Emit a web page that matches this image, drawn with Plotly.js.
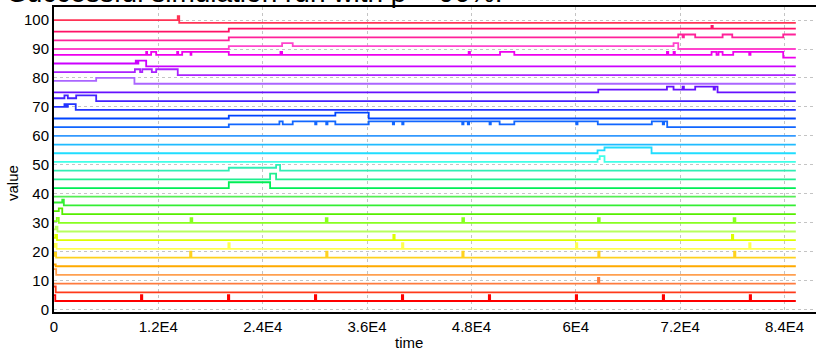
<!DOCTYPE html>
<html>
<head>
<meta charset="utf-8">
<script src="https://cdn.plot.ly/plotly-3.0.1.min.js"></script>
<style>html,body{margin:0;padding:0;background:#fff;}#chart{width:816px;height:350px;}</style>
</head>
<body>
<div id="chart"></div>
<script>
// ---- data: each series is a list of [time, value] change points (step-after) ----
const T_END = 85300;
const s03 = [[0,5],[150,3],[10000,5],[10150,3],[20000,5],[20150,3],[30000,5],[30150,3],[40000,5],[40150,3],[50000,5],[50150,3],[60000,5],[60150,3],[70000,5],[70150,3],[80000,5],[80150,3],[T_END,3]];
const s06 = [[0,8],[200,6],[T_END,6]];
const s09 = [[0,9],[62550,11],[62700,9],[T_END,9]];
const s12 = [[0,14],[250,12],[T_END,12]];
const s15 = [[0,15.6],[200,15],[T_END,15]];
const s18 = [[0,18.6],[100,19.6],[250,18],[15650,20],[15800,18],[31300,20],[31450,18],[46950,20],[47100,18],[62580,20],[62730,18],[78200,20],[78350,18],[T_END,18]];
const s21 = [[0,21.7],[100,22.7],[300,21],[20050,23],[20200,21],[40020,23],[40170,21],[60020,23],[60170,21],[79940,23],[80090,21],[T_END,21]];
const s24 = [[0,24.8],[150,25.8],[350,24],[39020,25.8],[39170,24],[77950,25.8],[78100,24],[T_END,24]];
const s27 = [[0,27.7],[200,28.7],[400,27],[T_END,27]];
const s30 = [[0,30.6],[320,31.7],[550,30],[15700,31.6],[15900,30],[31250,31.6],[31450,30],[46950,31.6],[47150,30],[62550,31.6],[62750,30],[78150,31.6],[78350,30],[T_END,30]];
const s33 = [[0,34],[550,35],[950,33],[T_END,33]];
const s36 = [[0,37],[950,38],[1130,36],[T_END,36]];
const s39 = [[0,39],[T_END,39]];
const s42 = [[0,42],[20100,44],[24850,42],[T_END,42]];
const s45 = [[0,45],[24850,47],[25540,45],[T_END,45]];
const s48 = [[0,48],[20100,49],[25540,50],[26000,48],[T_END,48]];
const s51 = [[0,51],[62500,52],[62750,53],[63300,51],[T_END,51]];
const s54 = [[0,54],[62500,55],[63300,56],[68710,54],[T_END,54]];
const s57 = [[0,57],[T_END,57]];
const s60 = [[0,60],[T_END,60]];
const s63 = [[0,63],[20100,64],[25920,65],[26300,64],[27450,65],[30030,64],[30180,65],[31300,64],[31450,65],[32350,64],[36190,65],[38960,64],[39110,65],[40040,64],[40190,65],[46940,64],[47090,65],[47580,64],[47730,65],[50080,64],[50230,65],[51240,64],[52930,65],[60050,64],[60200,65],[62530,64],[68740,65],[70000,64],[70150,65],[70510,63],[T_END,63]];
const s66 = [[0,66],[20100,67],[32350,68],[36190,66],[T_END,66]];
const s69 = [[0,70],[1200,71],[1400,70],[1590,71],[2500,69],[T_END,69]];
const s72 = [[0,73],[1200,74],[1590,73],[2550,74],[4850,72],[T_END,72]];
const s75 = [[0,75],[62580,76],[70480,77],[71240,76],[72280,77],[72430,76],[73730,77],[75850,76],[76000,77],[76300,75],[T_END,75]];
const s78 = [[0,79],[4850,80],[9250,78],[T_END,78]];
const s81 = [[0,82],[9300,83],[9900,82],[10150,83],[11250,82],[11750,83],[14230,81],[T_END,81]];
const s84 = [[0,85],[9400,86],[9550,85],[9700,86],[10600,84],[T_END,84]];
const s88 = [[0,88],[10600,89],[10710,88],[11170,89],[11750,88],[14160,89],[14280,88],[14740,89],[15700,88],[15800,89],[20100,88],[26040,89],[26230,88],[47680,89],[47830,88],[51290,89],[52930,88],[70480,89],[70630,88],[71240,89],[71390,88],[75610,89],[76180,88],[76410,89],[76880,88],[78100,89],[79940,88],[80090,89],[83850,87],[T_END,87]];
const s91 = [[0,90],[20100,91],[26230,92],[27450,91],[71240,92],[71780,90],[T_END,90]];
const s94 = [[0,93],[20100,94],[71780,95],[72280,94],[72430,95],[73730,94],[76880,95],[77990,94],[83850,95],[T_END,95]];
const s97 = [[0,96],[20100,97],[75600,98],[75750,97],[T_END,97]];
const s99 = [[0,100],[14230,101.3],[14400,99],[T_END,99]];

const xTickVals = [0, 12000, 24000, 36000, 48000, 60000, 72000, 84000];
const xTickText = ['0', '1.2E4', '2.4E4', '3.6E4', '4.8E4', '6E4', '7.2E4', '8.4E4'];
const yTickVals = [0, 10, 20, 30, 40, 50, 60, 70, 80, 90, 100];

// ---- styles ----
const seriesList = [s03,s06,s09,s12,s15,s18,s21,s24,s27,s30,s33,s36,s39,s42,s45,s48,s51,s54,s57,s60,s63,s66,s69,s72,s75,s78,s81,s84,s88,s91,s94,s97,s99];
const colors = ['#ff0000','#ff3a1a','#ff7a3c','#ffa050','#ffaa00','#ffd21e','#ffff50','#ddff00','#b8ff60','#88ff20','#55ee00','#33ee33','#55ee55','#00ee55','#20ee90','#30eeb4','#40ffe8','#20ddff','#20bbff','#3399ff','#1166ff','#0044ff','#2233ff','#4422ff','#6611ff','#aa66ff','#aa22ff','#cc00ff','#ee00ee','#ff44cc','#ff2299','#ff1166','#ff3355'];

const traces = seriesList.map((s, i) => ({
  type: 'scatter', mode: 'lines',
  x: s.map(p => p[0]), y: s.map(p => p[1]),
  line: {shape: 'hv', color: colors[i], width: 1.8},
  hoverinfo: 'skip'
}));

const PL = 54, PT = 7, PB = 38, W = 816, H = 350;
const pw = W - PL, ph = H - PT - PB;
const px2paperX = px => (px - PL) / pw;
const px2paperY = py => (H - PB - py) / ph;

const layout = {
  width: W, height: H,
  margin: {l: PL, r: 0, t: PT, b: PB, pad: 0},
  paper_bgcolor: '#ffffff', plot_bgcolor: '#ffffff',
  showlegend: false,
  font: {family: '"Liberation Sans", Arial, sans-serif', size: 15, color: '#000'},
  xaxis: {
    range: [0, 87620], tickvals: xTickVals, ticktext: xTickText,
    showgrid: true, gridcolor: '#c4c4c4', griddash: 'dot', gridwidth: 1,
    showline: true, linecolor: '#000', linewidth: 2, mirror: true,
    zeroline: false, ticks: '', tickfont: {size: 15}
  },
  yaxis: {
    range: [-0.8, 104.5], tickvals: yTickVals,
    showgrid: true, gridcolor: '#c4c4c4', griddash: 'dot', gridwidth: 1,
    showline: true, linecolor: '#000', linewidth: 2, mirror: false,
    zeroline: false, ticks: '', tickfont: {size: 15}
  },
  annotations: [
    {text: 'Successful simulation run with ρ = 96%.', xref: 'paper', yref: 'paper',
     x: px2paperX(6), y: 1, xanchor: 'left', yanchor: 'bottom', yshift: -3,
     showarrow: false, font: {size: 28, color: '#000'}},
    {text: 'value', xref: 'paper', yref: 'paper', x: px2paperX(13), y: px2paperY(183),
     xanchor: 'center', yanchor: 'middle', textangle: -90, showarrow: false, font: {size: 15}},
    {text: 'time', xref: 'paper', yref: 'paper', x: px2paperX(409), y: px2paperY(342),
     xanchor: 'center', yanchor: 'middle', showarrow: false, font: {size: 15}}
  ]
};

Plotly.newPlot('chart', traces, layout, {staticPlot: true, displayModeBar: false});
</script>
</body>
</html>
